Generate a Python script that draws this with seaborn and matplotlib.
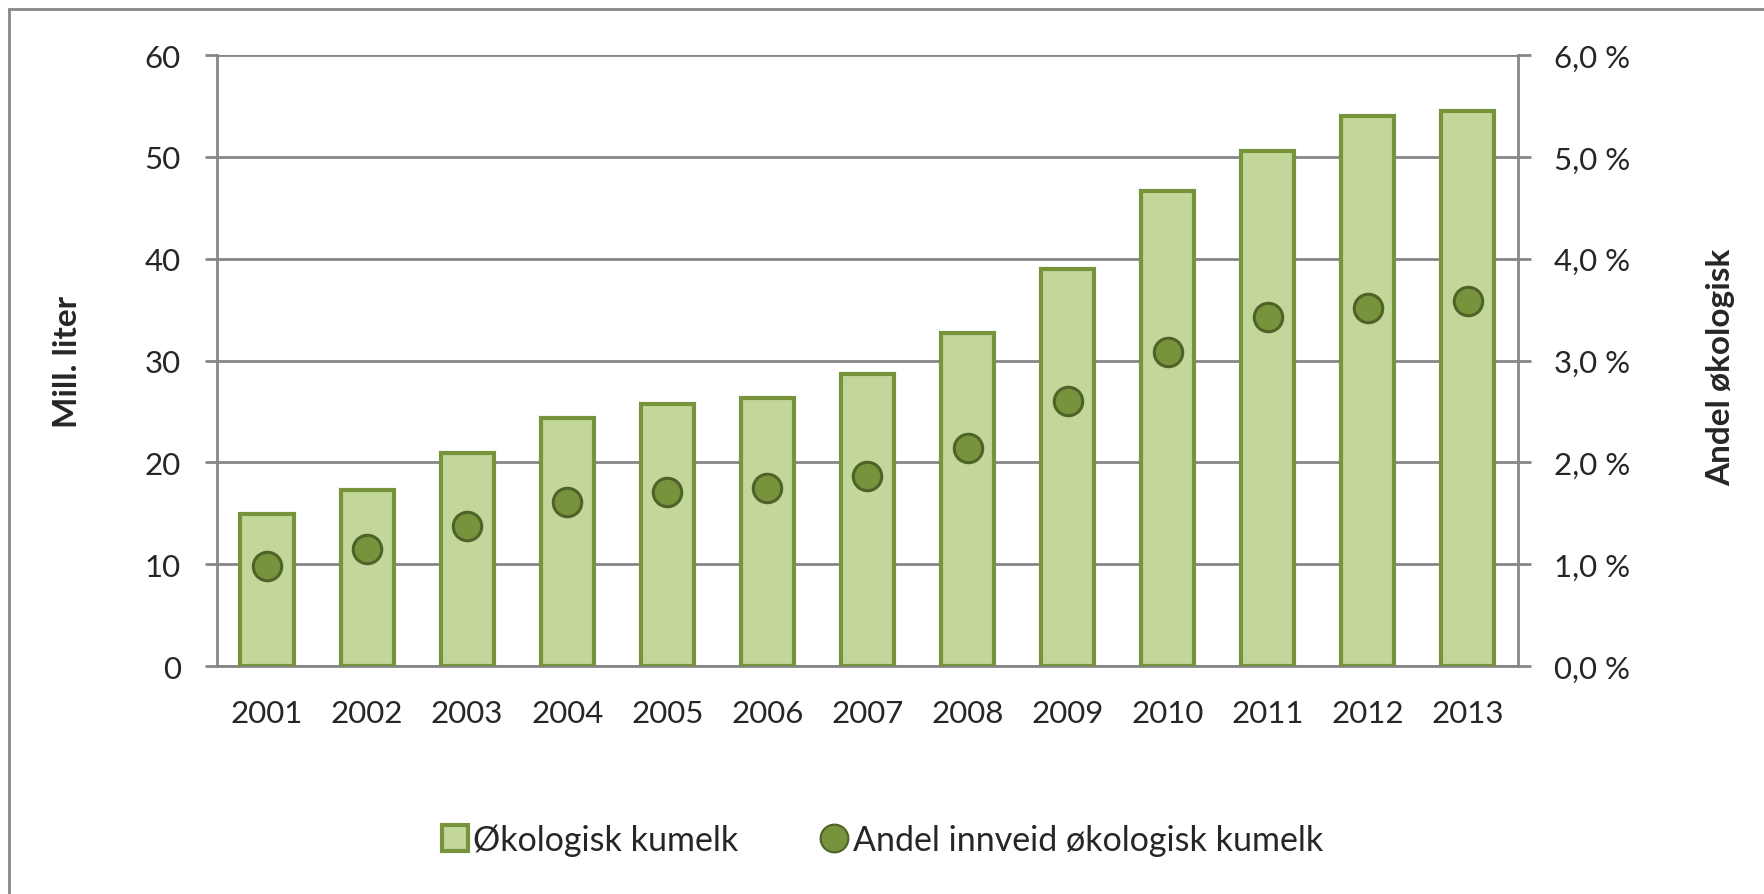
import numpy as np
import pandas as pd
import seaborn as sns
from matplotlib import pyplot as plt
from matplotlib.lines import Line2D
from matplotlib.patches import Rectangle
from matplotlib.ticker import FuncFormatter, MultipleLocator

# data
years = ["2001", "2002", "2003", "2004", "2005", "2006", "2007",
         "2008", "2009", "2010", "2011", "2012", "2013"]
volume = [14.9, 17.3, 20.9, 24.4, 25.7, 26.3, 28.7, 32.7, 39.0, 46.6, 50.6, 54.0, 54.5]
share = [0.98, 1.15, 1.38, 1.61, 1.71, 1.75, 1.87, 2.14, 2.60, 3.08, 3.43, 3.52, 3.58]

bar_label = "Økologisk kumelk"
dot_label = "Andel innveid økologisk kumelk"

bar_fill = "#C4D79B"
bar_edge = "#77933C"
dot_fill = "#77933C"
dot_edge = "#4F6228"
grid_col = "#868686"

sns.set_style("white")
plt.rcParams["font.family"] = ["Lato", "DejaVu Sans"]

df = pd.DataFrame({"year": years, "volume": volume, "share": share})

fig = plt.figure(figsize=(17.64, 8.95), dpi=100)
ax = fig.add_axes([0.123, 0.2547, 0.7375, 0.6827])

sns.barplot(data=df, x="year", y="volume", color=bar_fill, width=0.53,
            edgecolor=bar_edge, linewidth=3, saturation=1, ax=ax, zorder=3)

ax.set_ylim(0, 60)
ax.set_xlim(-0.5, len(years) - 0.5)
ax.yaxis.set_major_locator(MultipleLocator(10))
ax.grid(axis="y", color=grid_col, linewidth=2, zorder=0)
ax.set_axisbelow(True)

for side in ["left", "bottom", "right"]:
    ax.spines[side].set_color(grid_col)
    ax.spines[side].set_linewidth(2)
ax.spines["top"].set_visible(False)

ax.set_xticks(np.arange(-0.5, len(years)), minor=True)
ax.tick_params(axis="x", which="major", length=0, pad=24, labelsize=22.5)
ax.tick_params(axis="x", which="minor", length=9, width=2, color=grid_col, direction="out")
ax.tick_params(axis="y", length=9, width=2, color=grid_col, direction="out",
               pad=17, labelsize=22.5, left=True)
ax.set_xlabel("")
ax.set_ylabel("Mill. liter", fontsize=24, fontweight="bold")
ax.yaxis.set_label_coords(-0.104, 0.5)

ax2 = ax.twinx()
sns.scatterplot(x=np.arange(len(years)), y=share, s=420, color=dot_fill,
                edgecolor=dot_edge, linewidth=2.2, ax=ax2, zorder=4)
ax2.set_ylim(0, 6)
ax2.yaxis.set_major_locator(MultipleLocator(1))
ax2.yaxis.set_major_formatter(FuncFormatter(lambda v, p: f"{v:.1f} %".replace(".", ",")))
ax2.tick_params(axis="y", length=9, width=2, color=grid_col, direction="out",
                pad=17, labelsize=22.5, right=True)
for s in ax2.spines.values():
    s.set_visible(False)
ax2.set_ylabel("Andel økologisk", fontsize=24, fontweight="bold")
ax2.yaxis.set_label_coords(1.145, 0.49)

handles = [
    Line2D([], [], marker="s", linestyle="none", markersize=19,
           markerfacecolor=bar_fill, markeredgecolor=bar_edge, markeredgewidth=3),
    Line2D([], [], marker="o", linestyle="none", markersize=20,
           markerfacecolor=dot_fill, markeredgecolor=dot_edge, markeredgewidth=1.5),
]
fig.legend(handles, [bar_label, dot_label], loc="center", bbox_to_anchor=(0.499, 0.061),
           ncol=2, frameon=False, fontsize=24.5, handletextpad=0.05,
           columnspacing=2.3, handlelength=1.0)

# outer chart border
fig.patches.append(Rectangle((9 / 1764, -0.5), 1.5, 1.5 - 10 / 895,
                             transform=fig.transFigure, fill=False,
                             edgecolor=grid_col, linewidth=2))

plt.savefig("out.png", dpi=100)
plt.close(fig)
